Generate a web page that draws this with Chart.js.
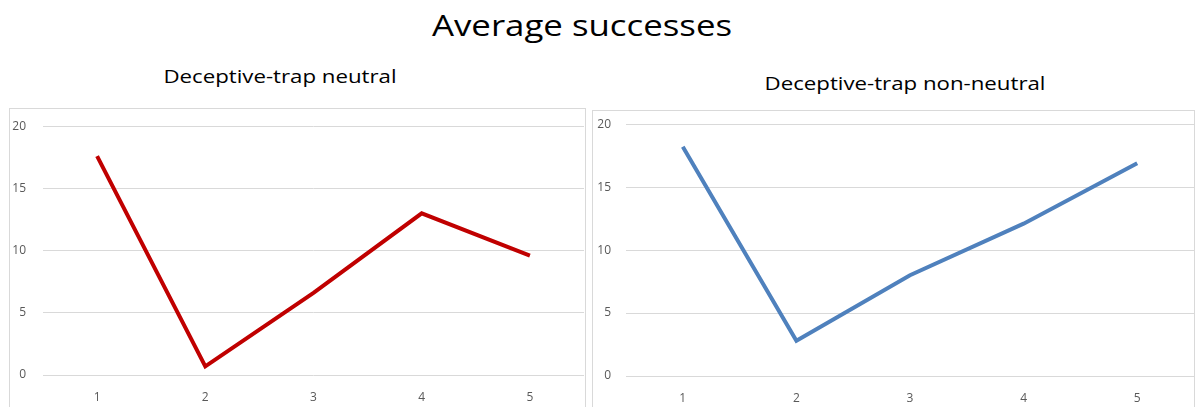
<!DOCTYPE html>
<html>
<head>
<meta charset="utf-8">
<script src="https://cdn.jsdelivr.net/npm/chart.js@4/dist/chart.umd.min.js"></script>
<style>
  html, body { margin: 0; padding: 0; background: #fff; overflow: hidden; }
  body { width: 1195px; height: 407px; position: relative; font-family: "Open Sans", "Noto Sans", sans-serif; }
  .txt { position: absolute; white-space: nowrap; color: #000; }
  .panel { position: absolute; border: 1px solid #d9d9d9; background: #fff; }
  .panel canvas { display: block; position: relative; }
</style>
</head>
<body>
<div class="txt" style="left:582px; top:24px; font-size:29px; transform: translate(-50%, -50%) scaleX(1.2);">Average successes</div>
<div class="txt" style="left:280px; top:76px; font-size:18px; transform: translate(-50%, -50%) scaleX(1.235);">Deceptive-trap neutral</div>
<div class="txt" style="left:905px; top:83px; font-size:18px; transform: translate(-50%, -50%) scaleX(1.235);">Deceptive-trap non-neutral</div>

<div class="panel" style="left:9px; top:108px; width:575px; height:300px;"><canvas id="left" style="margin-top:-7px;"></canvas></div>
<div class="panel" style="left:592px; top:110px; width:601px; height:300px;"><canvas id="right" style="margin-top:-9px;"></canvas></div>

<script>
// Trial numbers on the horizontal axis
const categories = ['1', '2', '3', '4', '5'];
// Average successes per trial
const neutralValues = [17.6, 0.7, 6.6, 13.0, 9.6];
const nonNeutralValues = [18.2, 2.8, 8.0, 12.1, 16.9];
// Value axis ticks
const yTicks = [0, 5, 10, 15, 20];

function makeChart(id, w, h, values, color, pad, yWidth, yPad) {
  const canvas = document.getElementById(id);
  canvas.width = w; canvas.height = h;
  canvas.style.width = w + 'px'; canvas.style.height = h + 'px';
  return new Chart(canvas, {
    type: 'line',
    data: {
      labels: categories,
      datasets: [{
        data: values,
        borderColor: color,
        borderWidth: 4,
        pointRadius: 0,
        pointHoverRadius: 0,
        tension: 0,
        fill: false,
        borderCapStyle: 'butt',
        borderJoinStyle: 'miter'
      }]
    },
    options: {
      responsive: false,
      animation: false,
      devicePixelRatio: 1,
      layout: { padding: pad },
      plugins: { legend: { display: false }, tooltip: { enabled: false }, title: { display: false } },
      scales: {
        x: {
          type: 'category',
          offset: true,
          grid: { display: false },
          border: { display: false },
          ticks: { color: '#595959', font: { family: 'Open Sans', size: 12 }, padding: 7, maxRotation: 0 },
          afterFit: (s) => { s.height = 34; }
        },
        y: {
          min: 0, max: 20,
          afterBuildTicks: (s) => { s.ticks = yTicks.map(v => ({ value: v })); },
          grid: { color: '#d9d9d9', lineWidth: 1, drawTicks: false },
          border: { display: false },
          ticks: { color: '#595959', font: { family: 'Open Sans', size: 12 }, padding: yPad },
          afterFit: (s) => { s.width = yWidth; }
        }
      }
    }
  });
}

makeChart('left', 575, 307, neutralValues, '#C00000', { top: 0, right: 1, bottom: 0, left: 0 }, 33, 17);
makeChart('right', 601, 308, nonNeutralValues, '#4F81BD', { top: 0, right: 0, bottom: 0, left: 0 }, 33, 15);
</script>
</body>
</html>
